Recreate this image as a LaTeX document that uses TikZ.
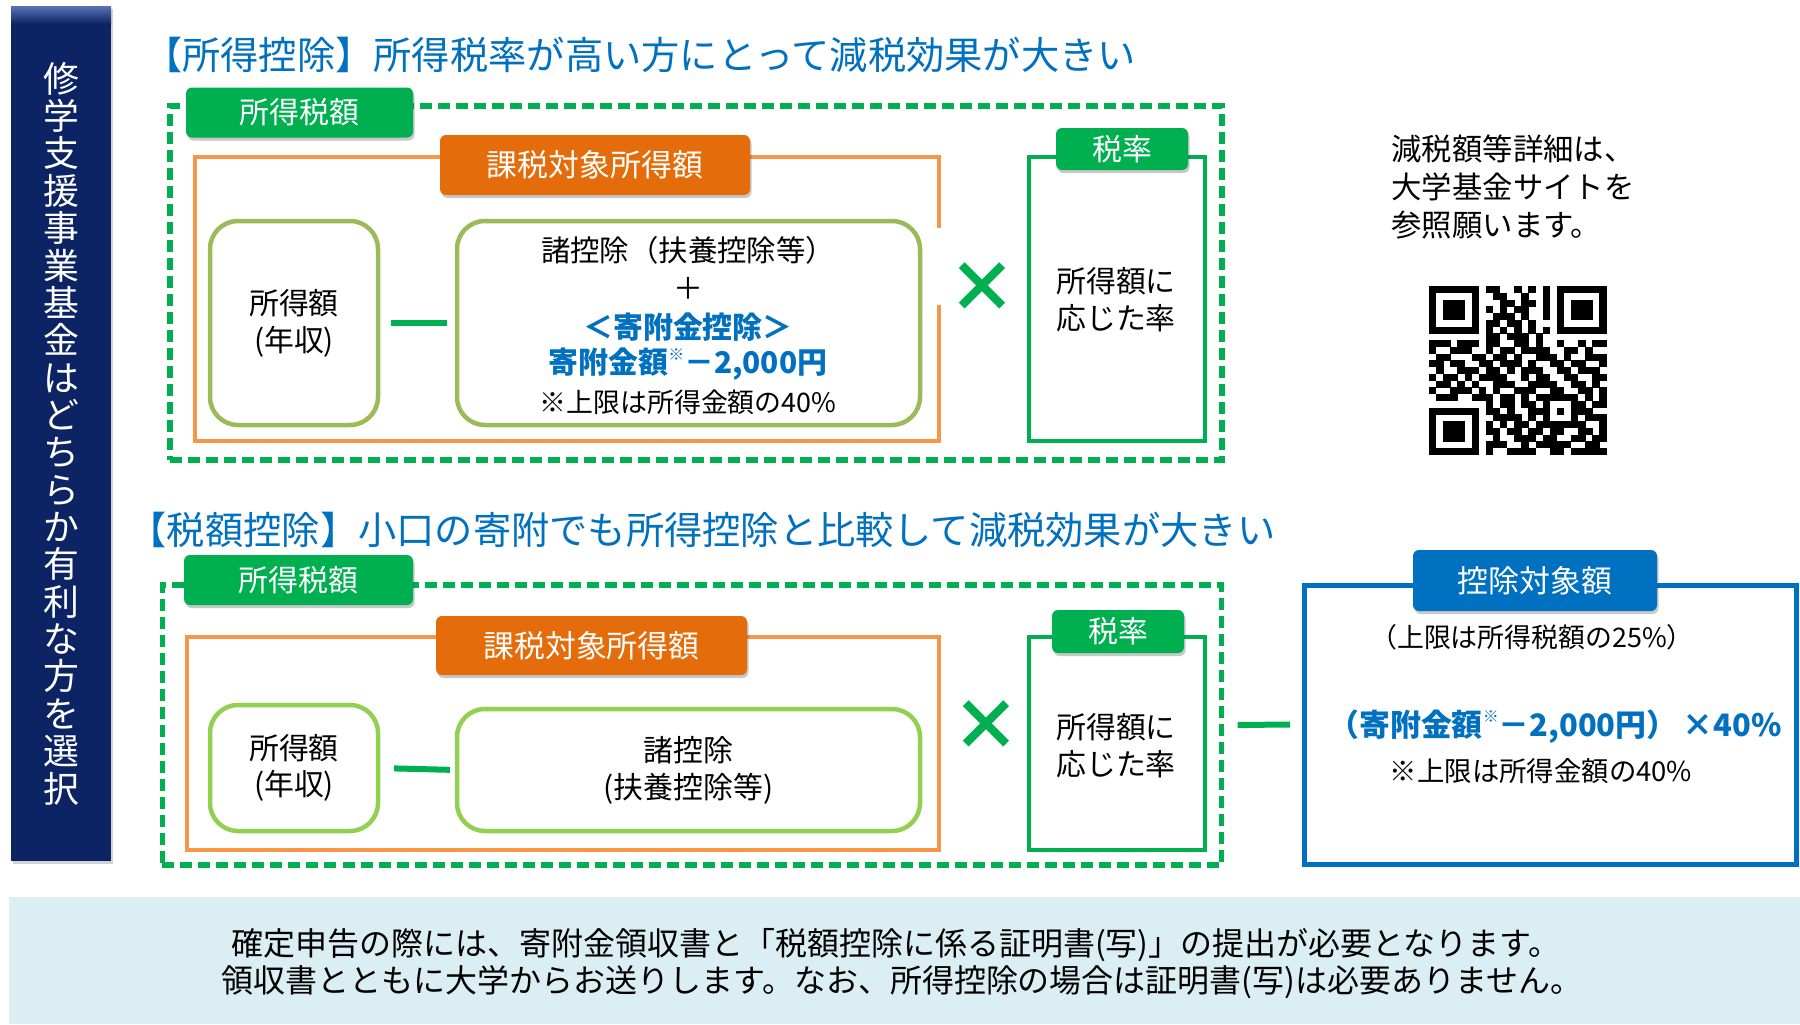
\documentclass[tikz,border=0pt]{standalone}
\usepackage{fontspec}
\setmainfont{Noto Sans CJK JP}
\usetikzlibrary{shadows}
\definecolor{qgreen}{HTML}{00B050}
\definecolor{qorange}{HTML}{F79646}
\definecolor{qorangedk}{HTML}{E46C0A}
\definecolor{qolive}{HTML}{9BBB59}
\definecolor{qlime}{HTML}{92D050}
\definecolor{qblue}{HTML}{0070C0}
\definecolor{qnavy}{HTML}{0C2364}
\definecolor{qband}{HTML}{DAEEF3}
\newcommand\fsz[2]{\fontsize{#1}{#2}\selectfont}
\newcommand\supkome{\raisebox{0.45em}{\fsz{16}{16}※}}
\begin{document}
\begin{tikzpicture}[x=1bp,y=-1bp,
  wh/.style 2 args={minimum width=#1bp, minimum height=#2bp, inner sep=0pt, outer sep=0pt},
  tabbase/.style={rounded corners=6bp, text=white, font=\fsz{30}{30},
     drop shadow={shadow xshift=1.5bp, shadow yshift=-3bp, opacity=0.3, fill=black!70}},
  greentab/.style={tabbase, fill=qgreen},
  orangetab/.style={tabbase, fill=qorangedk},
  bluetab/.style={tabbase, fill=qblue},
  dashbox/.style={draw=qgreen, line width=5.5bp, dash pattern=on 12bp off 6bp},
  orangeframe/.style={draw=qorange, line width=4.5bp},
  greenframe/.style={draw=qgreen, line width=4.5bp, fill=white},
  roundbox/.style={line width=4.5bp, rounded corners=28bp, fill=white},
  minusline/.style={draw=qgreen, line width=6bp},
  timesmark/.style={text=qgreen, font=\fsz{70}{70}\bfseries, inner sep=0pt},
  ttl/.style={text=qblue, font=\fsz{38.4}{40}, inner sep=0pt},
  txt/.style={inner sep=0pt, text=black},
  bluetxt/.style={inner sep=0pt, text=qblue, font=\fsz{30}{30}\bfseries}
]
\useasboundingbox (0,0) rectangle (1800,1024);
\fill[white] (0,0) rectangle (1800,1024);

% side bar
\node[wh={100}{855}, fill=qnavy, text=white, align=center, font=\fsz{36}{37.5},
  drop shadow={shadow xshift=2bp, shadow yshift=-3bp, opacity=0.35}] (sidebar) at (61,433.5)
  {修\\学\\支\\援\\事\\業\\基\\金\\は\\ど\\ち\\ら\\か\\有\\利\\な\\方\\を\\選\\択};
\shade[top color={rgb,255:red,90;green,115;blue,180}, bottom color=qnavy] (11,6) rectangle (111,24);

% titles
\node[ttl] (title1) at (640,55) {【所得控除】所得税率が高い方にとって減税効果が大きい};
\node[ttl] (title2) at (702,530) {【税額控除】小口の寄附でも所得控除と比較して減税効果が大きい};

% ---------- top section ----------
\node[dashbox, wh={1052}{354}] (outer1) at (696,283) {};
\node[orangeframe, wh={744}{284}] (orange1) at (567,299) {};
\node[greenframe, wh={176}{284}] (rate1) at (1117,299) {};
\node[roundbox, draw=qolive, wh={168}{204}, align=center, font=\fsz{30}{37}] (inc1) at (294,323) {所得額\\(年収)};
\node[roundbox, draw=qolive, wh={463}{204}] (ded1) at (688.5,323) {};
\draw[white, line width=7bp] (939,228) -- (939,305);
\node[txt, font=\fsz{29.5}{30}] (d1a) at (688,250) {諸控除（扶養控除等）};
\node[txt, font=\fsz{30}{30}] (d1b) at (688,288) {＋};
\node[bluetxt] (d1c) at (688,327) {＜寄附金控除＞};
\node[bluetxt] (d1d) at (688,364) {寄附金額\supkome－2,000円};
\node[txt, font=\fsz{27}{27}] (d1e) at (688,402) {※上限は所得金額の40\%};
\draw[minusline, shorten <=13bp, shorten >=10bp] (inc1.east) -- (ded1.west);
\node[timesmark] (x1) at (982,288) {×};
\node[txt, align=center, font=\fsz{30}{37.5}] (r1txt) at (1116,300) {所得額に\\応じた率};
\node[greentab, wh={227}{50}] (tab1) at (299.5,112.5) {所得税額};
\node[orangetab, wh={310}{60}, font=\fsz{31}{31}] (otab1) at (595,165) {課税対象所得額};
\node[greentab, wh={132}{42}] (rtab1) at (1122,149) {税率};

% info text and QR
\node[txt, align=left, font=\fsz{30.5}{38}] (info) at (1513,187) {減税額等詳細は、\\大学基金サイトを\\参照願います。};
\foreach \qrow [count=\qr from 0] in {
{1,1,1,1,1,1,1,0,1,1,0,0,1,0,1,0,1,0,1,1,1,1,1,1,1},
{1,0,0,0,0,0,1,0,0,1,1,0,0,1,0,0,1,0,1,0,0,0,0,0,1},
{1,0,1,1,1,0,1,0,0,0,1,1,0,1,1,0,1,0,1,0,1,1,1,0,1},
{1,0,1,1,1,0,1,0,1,0,1,0,1,1,0,0,1,0,1,0,1,1,1,0,1},
{1,0,1,1,1,0,1,0,0,1,1,1,0,1,0,0,1,0,1,0,1,1,1,0,1},
{1,0,0,0,0,0,1,0,1,1,0,1,1,0,1,0,0,0,1,0,0,0,0,0,1},
{1,1,1,1,1,1,1,0,1,0,1,0,1,0,1,0,1,0,1,1,1,1,1,1,1},
{0,0,0,0,0,0,0,0,1,1,0,1,1,1,0,1,0,0,0,0,0,0,0,0,0},
{1,1,1,0,1,1,1,0,1,1,0,0,1,1,0,1,0,0,1,0,0,1,0,1,1},
{1,0,0,1,1,1,0,0,1,0,1,1,0,1,1,1,1,0,0,1,1,0,1,0,0},
{0,1,1,0,0,0,1,1,0,1,1,0,1,0,0,1,1,1,0,1,0,0,1,1,1},
{1,1,0,1,1,0,0,1,1,0,1,1,1,0,1,0,0,1,1,0,1,1,0,0,1},
{0,1,0,0,1,1,1,0,1,1,0,1,0,1,1,1,0,0,1,1,0,1,1,1,0},
{1,0,1,1,0,1,0,1,1,1,1,0,0,1,0,1,1,0,0,1,1,0,0,1,1},
{0,1,1,0,1,0,1,0,0,1,1,1,0,0,1,1,1,1,0,0,1,1,0,1,0},
{1,0,0,1,1,1,0,1,0,1,0,0,1,1,1,0,0,1,1,0,0,1,1,0,1},
{0,1,1,1,0,0,1,1,1,0,1,1,0,1,0,1,1,1,1,1,1,0,1,0,1},
{0,0,0,0,0,0,0,0,1,0,1,1,0,1,1,0,1,0,0,0,1,1,0,1,1},
{1,1,1,1,1,1,1,0,1,1,0,1,0,0,1,1,1,0,1,0,1,1,1,0,0},
{1,0,0,0,0,0,1,0,0,1,1,1,1,0,1,0,1,0,0,0,1,0,1,1,1},
{1,0,1,1,1,0,1,0,1,0,1,0,1,1,0,1,1,1,1,1,1,1,0,0,1},
{1,0,1,1,1,0,1,0,1,1,0,1,1,0,1,1,0,1,1,0,0,1,1,0,1},
{1,0,1,1,1,0,1,0,0,1,0,0,1,1,1,0,1,1,0,0,1,1,0,1,1},
{1,0,0,0,0,0,1,0,1,1,1,0,0,1,0,1,1,1,1,1,0,0,1,1,0},
{1,1,1,1,1,1,1,0,1,0,0,1,1,1,1,0,0,1,1,0,1,1,1,1,1}}{
  \foreach \qb [count=\qc from 0] in \qrow {
    \ifnum\qb=1\relax \fill[black] (1429+\qc*7.1, 286+\qr*6.75) rectangle ++(7.4,7.05);\fi
  }
}

% ---------- bottom section ----------
\node[dashbox, wh={1059}{280}] (outer2) at (692,725) {};
\node[orangeframe, wh={752}{213}] (orange2) at (563,743.5) {};
\node[greenframe, wh={176}{213}] (rate2) at (1117,743.5) {};
\node[roundbox, draw=qlime, wh={168}{126}, align=center, font=\fsz{30}{36}] (inc2) at (294,768) {所得額\\(年収)};
\node[roundbox, draw=qlime, wh={463}{122}, align=center, font=\fsz{30}{37}] (ded2) at (688.5,770) {諸控除\\(扶養控除等)};
\draw[minusline, shorten <=16bp, shorten >=7bp] (inc2.east) -- (ded2.west);
\node[timesmark] (x2) at (986,726) {×};
\node[txt, align=center, font=\fsz{30}{37.5}] (r2txt) at (1116,746) {所得額に\\応じた率};
\node[greentab, wh={229}{50}] (tab2) at (298.5,580) {所得税額};
\node[orangetab, wh={311}{59}, font=\fsz{31}{31}] (otab2) at (591.5,645.5) {課税対象所得額};
\node[greentab, wh={132}{43}] (rtab2) at (1118,631.5) {税率};

% deduction box
\node[draw=qblue, line width=5bp, wh={492}{279}] (deduct) at (1550,724.5) {};
\node[bluetab, wh={244}{61}, font=\fsz{31}{31}] (btab) at (1535,580.5) {控除対象額};
\node[txt, font=\fsz{27}{27}] (b1) at (1532,637) {（上限は所得税額の25\%）};
\node[txt, text=qblue, font=\fsz{31}{31}\bfseries] (b2) at (1555,727) {（寄附金額\supkome－2,000円）\,×40\%};
\node[txt, font=\fsz{27.5}{27.5}] (b3) at (1541,771) {※上限は所得金額の40\%};
\draw[minusline, shorten <=16bp, shorten >=14bp] (outer2.east) -- (deduct.west);

% bottom band
\node[fill=qband, wh={1791}{127}, anchor=north west] (band) at (9,897) {};
\node[txt, font=\fsz{32.1}{32.1}] (n1) at (896,945) {確定申告の際には、寄附金領収書と「税額控除に係る証明書(写)」の提出が必要となります。};
\node[txt, font=\fsz{32.1}{32.1}] (n2) at (902,982) {領収書とともに大学からお送りします。なお、所得控除の場合は証明書(写)は必要ありません。};
\end{tikzpicture}
\end{document}
